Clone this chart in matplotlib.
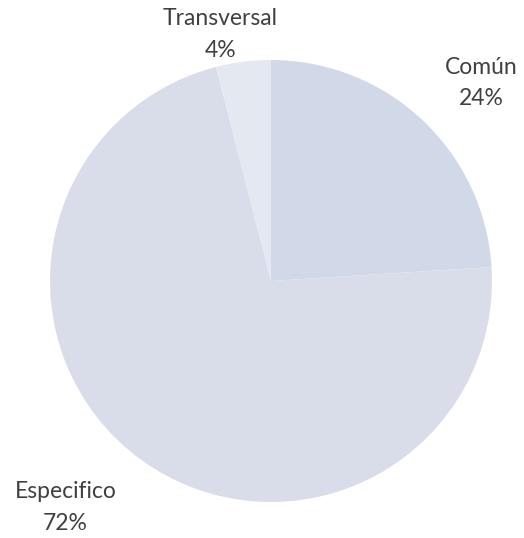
import matplotlib.pyplot as plt

labels = ["Común", "Especifico", "Transversal"]
shares = [24, 72, 4]
colors = ["#d1d9e8", "#d9dde9", "#e3e8f1"]
# label anchor points (data coords, pie radius = 1)
label_pos = [(0.95, 0.895), (-0.93, -1.025), (-0.23, 1.115)]

fig = plt.figure(figsize=(5.24, 5.38), dpi=100)
# pie centre ~ (271, 281) px, radius ~ 221 px
ax = fig.add_axes([50 / 524, (538 - 502) / 538, 442 / 524, 442 / 538])

ax.pie(shares, colors=colors, startangle=90, counterclock=False,
       wedgeprops=dict(linewidth=0), radius=1)
ax.set_xlim(-1, 1)
ax.set_ylim(-1, 1)

for lab, val, (x, y) in zip(labels, shares, label_pos):
    ax.text(x, y, f"{lab}\n{val}%", ha="center", va="center",
            family=["Lato", "DejaVu Sans"], fontsize=16.5, color="#404040",
            linespacing=1.6, clip_on=False)

fig.savefig("out.png", dpi=100, facecolor="white")
